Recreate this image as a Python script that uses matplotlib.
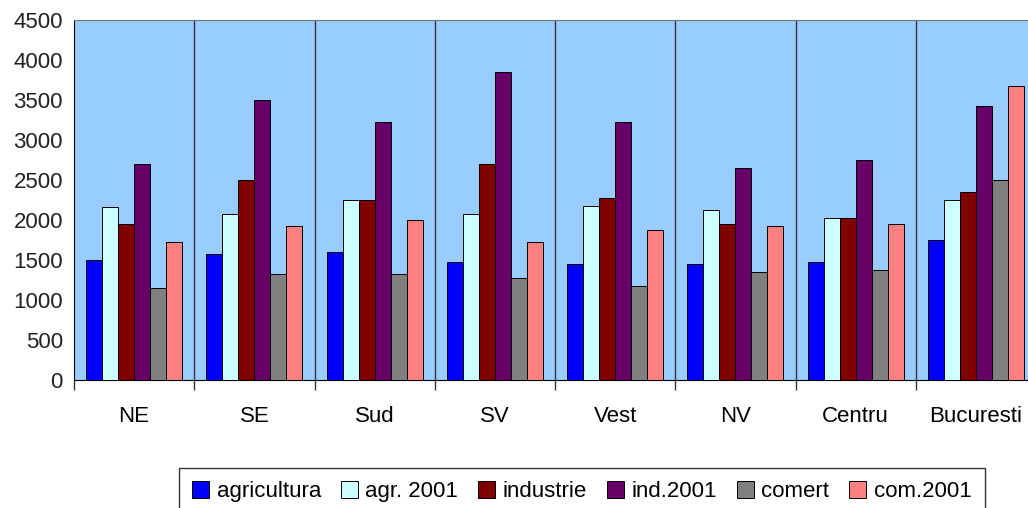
import matplotlib
matplotlib.use('Agg')
import matplotlib.pyplot as plt
import numpy as np

plt.rcParams['font.family'] = ['Liberation Sans', 'DejaVu Sans']

# regions and series
regions = ['NE', 'SE', 'Sud', 'SV', 'Vest', 'NV', 'Centru', 'Bucuresti']
agricultura = [1500, 1575, 1600, 1470, 1450, 1450, 1470, 1750]
agr_2001 = [2165, 2070, 2250, 2070, 2170, 2120, 2020, 2250]
industrie = [1950, 2500, 2250, 2700, 2275, 1950, 2020, 2350]
ind_2001 = [2700, 3500, 3220, 3850, 3220, 2645, 2745, 3420]
comert = [1150, 1325, 1325, 1275, 1175, 1350, 1375, 2500]
com_2001 = [1720, 1920, 2000, 1720, 1870, 1920, 1945, 3670]

series = [agricultura, agr_2001, industrie, ind_2001, comert, com_2001]
names = ['agricultura', 'agr. 2001', 'industrie', 'ind.2001', 'comert', 'com.2001']
colors = ['#0000FF', '#CCFFFF', '#800000', '#660066', '#808080', '#FF8080']

fs = 16

fig = plt.figure(figsize=(10.28, 5.08), dpi=100)
fig.set_facecolor('w')
ax = fig.add_axes([74 / 1028, 1 - 380 / 508, 962 / 1028, 360 / 508])
ax.set_facecolor('#99CCFF')

x = np.arange(len(regions))
w = 0.8 / len(series)
for i, (vals, name, col) in enumerate(zip(series, names, colors)):
    ax.bar(x - 0.4 + w * (i + 0.5), vals, width=w, color=col,
           edgecolor='black', linewidth=0.7, label=name, zorder=3)

ax.set_xlim(-0.5, len(regions) - 0.5)
ax.set_ylim(0, 4500)
ax.set_yticks(np.arange(0, 4501, 500))
ax.tick_params(axis='y', length=0, pad=8, labelsize=fs, labelcolor='#222222')

# category labels at centres, ticks and separators on the boundaries
ax.set_xticks(x)
ax.set_xticklabels(regions, fontsize=fs)
ax.tick_params(axis='x', which='major', length=0, pad=19)
bounds = np.arange(-0.5, len(regions), 1.0)
ax.set_xticks(bounds, minor=True)
ax.tick_params(axis='x', which='minor', length=7, width=1, color='#333333')
for b in bounds[1:]:
    ax.axvline(b, color='#333344', linewidth=1, zorder=2)

ax.spines['top'].set_color('#777777')
ax.spines['right'].set_visible(False)
ax.spines['left'].set_color('black')
ax.spines['bottom'].set_color('black')

leg = fig.legend(loc='upper center', bbox_to_anchor=(0.566, 1 - 468 / 508), ncol=6,
                 fontsize=fs, frameon=True, fancybox=False, edgecolor='black',
                 handlelength=0.75, handleheight=0.75, handletextpad=0.35,
                 columnspacing=0.9, borderpad=0.6, borderaxespad=0)
leg.get_frame().set_linewidth(1)

plt.savefig('out.png', dpi=100)
plt.close()
